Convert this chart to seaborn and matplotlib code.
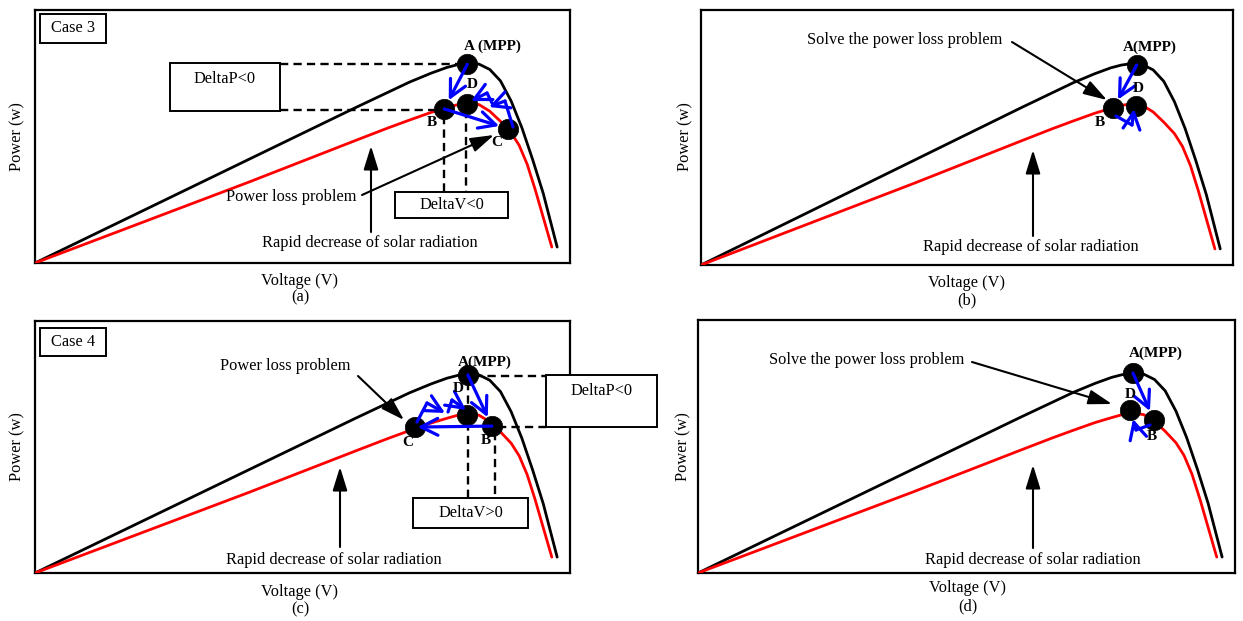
import matplotlib
matplotlib.use("Agg")
import matplotlib.pyplot as plt
import seaborn as sns
from matplotlib.patches import Rectangle
from matplotlib.transforms import Affine2D

sns.set_theme(style="white")
plt.rcParams['font.family'] = ['Liberation Serif', 'DejaVu Serif']

# ---------------- data (normalised voltage / power) -------------
voltage_high = [0, 20, 40, 60, 66, 70, 74, 77, 79, 81, 83, 85, 87, 89, 91, 93, 95, 97.6]
power_high = [0, 20.5, 41, 61.5, 67.5, 71.5, 75, 77.3, 78.4, 79, 78.6, 76.5, 72, 64, 53.5, 41, 27.5, 6.3]
voltage_low = [0, 20, 40, 60, 66, 70, 74, 77, 79, 81, 83, 85, 87, 89, 90.5, 92, 93.5, 95, 96.6]
power_low = [0, 16, 32, 48.5, 53.4, 56.5, 59.5, 61.4, 62.6, 63.2, 62.6, 60, 56, 51.5, 46.5, 39, 29, 18, 6.3]

# operating points per panel: labels, voltage, power
pts_a_lab = ["A", "B", "C", "D"]
pts_a_v = [80.8, 76.5, 88.5, 80.8]
pts_a_p = [78.5, 60.9, 53.0, 62.8]
pts_b_lab = ["A", "B", "D"]
pts_b_v = [81.9, 77.5, 81.7]
pts_b_p = [78.4, 61.5, 62.4]
pts_c_lab = ["A", "B", "C", "D"]
pts_c_v = [80.9, 85.4, 71.0, 80.7]
pts_c_p = [78.6, 58.3, 57.9, 62.7]
pts_d_lab = ["A", "B", "D"]
pts_d_v = [81.0, 84.9, 80.4]
pts_d_p = [79.0, 60.5, 64.4]

W, H = 1243, 621
fig = plt.figure(figsize=(W / 100, H / 100), dpi=100)
PX = Affine2D().scale(1 / W, -1 / H).translate(0, 1) + fig.transFigure

FS = 11.8
FSB = 11


def add_ax(l, t, r, b):
    return fig.add_axes([l / W, 1 - b / H, (r - l) / W, (b - t) / H])


def base(ax, lab, vs, ps):
    sns.lineplot(x=voltage_high, y=power_high, color="black", lw=2.0, ax=ax,
                 sort=False, estimator=None, zorder=3)
    sns.lineplot(x=voltage_low, y=power_low, color="red", lw=2.0, ax=ax,
                 sort=False, estimator=None, zorder=3)
    sns.scatterplot(x=vs, y=ps, color="black", s=215, ax=ax, zorder=5,
                    edgecolor="black", linewidth=0.5, legend=False, clip_on=False)
    ax.set_xlim(0, 100)
    ax.set_ylim(0, 100)
    ax.set_xticks([])
    ax.set_yticks([])
    ax.set_xlabel("")
    ax.set_ylabel("")
    for s in ax.spines.values():
        s.set_color("black")
        s.set_linewidth(1.6)
    return dict(zip(lab, zip(vs, ps)))


def text(x, y, s, bold=False, size=None, rot=0):
    if size is None:
        size = FSB if bold else FS
    fig.text(x, y, s, transform=PX, ha="center", va="center", fontsize=size,
             fontweight="bold" if bold else "normal", rotation=rot, color="black")


def box(ax, l, t, w, h, s, ty=None):
    ax.add_patch(Rectangle((l, t), w, h, transform=PX, facecolor="white",
                           edgecolor="black", lw=1.4, zorder=8, clip_on=False))
    ax.text(l + w / 2, t + h / 2 if ty is None else ty, s, transform=PX, ha="center",
            va="center", fontsize=FS, zorder=9, color="black")


def dash(ax, pts):
    xs = [p[0] for p in pts]
    ys = [p[1] for p in pts]
    ax.plot(xs, ys, transform=PX, color="black", lw=1.7, ls=(0, (3.5, 2.2)),
            clip_on=False, zorder=4)


def black_arrow(ax, x0, y0, x1, y1):
    ax.annotate("", xy=(x1, y1), xytext=(x0, y0), xycoords=PX, textcoords=PX,
                arrowprops=dict(arrowstyle="-|>,head_length=0.9,head_width=0.28",
                                color="black", lw=1.5, mutation_scale=16,
                                shrinkA=0, shrinkB=0), zorder=6)


def blue_data_arrow(ax, p0, p1, shrinkB=7):
    ax.annotate("", xy=p1, xytext=p0, xycoords="data", textcoords="data",
                arrowprops=dict(arrowstyle="->,head_length=0.75,head_width=0.38",
                                color="#0000FF", lw=2.3, mutation_scale=16,
                                shrinkA=0, shrinkB=shrinkB), zorder=7)


def blue_path(ax, pts):
    xs = [p[0] for p in pts[:-1]]
    ys = [p[1] for p in pts[:-1]]
    if len(xs) > 1:
        ax.plot(xs, ys, transform=PX, color="#0000FF", lw=2.3, zorder=7,
                clip_on=False, solid_capstyle="round")
    ax.annotate("", xy=pts[-1], xytext=pts[-2], xycoords=PX, textcoords=PX,
                arrowprops=dict(arrowstyle="->,head_length=0.75,head_width=0.38",
                                color="#0000FF", lw=2.3, mutation_scale=16,
                                shrinkA=0, shrinkB=0), zorder=7)


# ---------------- panel (a) ----------------
ax = add_ax(35, 10, 570, 263)
P = base(ax, pts_a_lab, pts_a_v, pts_a_p)
box(ax, 40, 14, 66, 29, "Case 3")
box(ax, 170, 63, 110, 48, "DeltaP<0", ty=79)
dash(ax, [(280, 64), (460, 64)])
dash(ax, [(280, 110), (438, 110)])
dash(ax, [(444, 116), (444, 192)])
dash(ax, [(466, 110), (466, 192)])
box(ax, 395, 192, 113, 26, "DeltaV<0")
blue_data_arrow(ax, P["A"], P["B"])
blue_data_arrow(ax, P["B"], P["C"])
blue_path(ax, [(513, 127), (505, 101), (489, 107)])
blue_path(ax, [(492, 103), (487, 93), (471, 101)])
text(492, 46, "A (MPP)", bold=True)
text(432, 122, "B", bold=True)
text(497, 143, "C", bold=True)
text(472, 84, "D", bold=True)
text(291, 197, "Power loss problem")
black_arrow(ax, 362, 195, 494, 135)
text(370, 243, "Rapid decrease of solar radiation")
black_arrow(ax, 371, 232, 371, 146)
text(17, 137, "Power (w)", rot=90)
text(300, 281, "Voltage (V)")
text(300, 297, "(a)")

# ---------------- panel (b) ----------------
ax = add_ax(701, 10, 1233, 265)
P = base(ax, pts_b_lab, pts_b_v, pts_b_p)
blue_data_arrow(ax, P["A"], P["B"])
blue_path(ax, [(1116, 116), (1132, 125), (1134, 109)])
text(905, 40, "Solve the power loss problem")
black_arrow(ax, 1012, 42, 1107, 100)
text(1150, 47, "A(MPP)", bold=True)
text(1138, 88, "D", bold=True)
text(1100, 123, "B", bold=True)
text(1031, 247, "Rapid decrease of solar radiation")
black_arrow(ax, 1033, 236, 1033, 150)
text(685, 137, "Power (w)", rot=90)
text(967, 283, "Voltage (V)")
text(967, 300, "(b)")

# ---------------- panel (c) ----------------
ax = add_ax(35, 321, 570, 573)
P = base(ax, pts_c_lab, pts_c_v, pts_c_p)
box(ax, 40, 328, 66, 28, "Case 4")
dash(ax, [(474, 376), (546, 376)])
dash(ax, [(498, 427), (546, 427)])
dash(ax, [(468, 382), (468, 498)])
dash(ax, [(495, 432), (495, 498)])
box(ax, 546, 375, 111, 52, "DeltaP<0", ty=391)
box(ax, 413, 498, 115, 30, "DeltaV>0")
blue_data_arrow(ax, P["A"], P["B"])
blue_data_arrow(ax, P["B"], P["C"], shrinkB=2)
blue_path(ax, [(417, 422), (427, 403), (445, 413)])
blue_path(ax, [(448, 412), (452, 400), (466, 410)])
text(285, 366, "Power loss problem")
black_arrow(ax, 358, 376, 404, 420)
text(485, 362, "A(MPP)", bold=True)
text(458, 388, "D", bold=True)
text(408, 442, "C", bold=True)
text(486, 441, "B", bold=True)
text(334, 560, "Rapid decrease of solar radiation")
black_arrow(ax, 340, 547, 340, 467)
text(17, 447, "Power (w)", rot=90)
text(300, 592, "Voltage (V)")
text(300, 609, "(c)")

# ---------------- panel (d) ----------------
ax = add_ax(698, 320, 1235, 573)
P = base(ax, pts_d_lab, pts_d_v, pts_d_p)
blue_data_arrow(ax, P["A"], P["B"])
blue_path(ax, [(1150, 425), (1136, 430), (1133, 419)])
text(867, 360, "Solve the power loss problem")
black_arrow(ax, 972, 362, 1112, 404)
text(1156, 353, "A(MPP)", bold=True)
text(1130, 395, "D", bold=True)
text(1152, 437, "B", bold=True)
text(1033, 560, "Rapid decrease of solar radiation")
black_arrow(ax, 1033, 548, 1033, 465)
text(683, 447, "Power (w)", rot=90)
text(968, 588, "Voltage (V)")
text(968, 606, "(d)")

fig.savefig("out.png", dpi=100, facecolor="white")
